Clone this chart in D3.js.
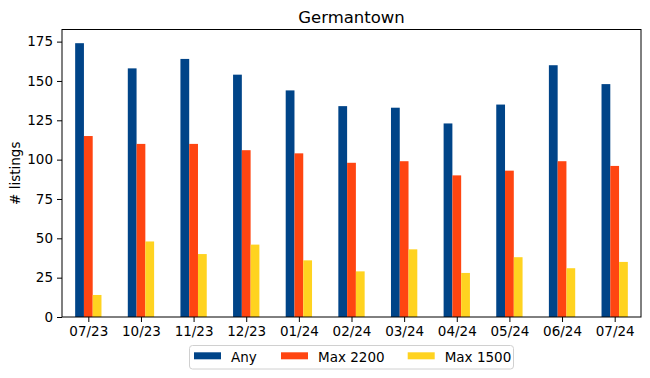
<!DOCTYPE html>
<html>
<head>
<meta charset="utf-8">
<script src="https://cdn.jsdelivr.net/npm/d3@7"></script>
<style>
  body { margin: 0; background: #fff; }
  svg { display: block; font-family: "DejaVu Sans", sans-serif; }
</style>
</head>
<body>
<svg id="chart" width="650" height="378"></svg>
<script>
const categories = ["07/23","10/23","11/23","12/23","01/24","02/24","03/24","04/24","05/24","06/24","07/24"];
const seriesNames = ["Any","Max 2200","Max 1500"];
const anyValues = [174,158,164,154,144,134,133,123,135,160,148];
const max2200Values = [115,110,110,106,104,98,99,90,93,99,96];
const max1500Values = [14,48,40,46,36,29,43,28,38,31,35];
const yTicks = [0,25,50,75,100,125,150,175];
const colors = ["#004488","#FF4511","#FFD320"];
const title = "Germantown";
const yLabel = "# listings";

const series = [anyValues, max2200Values, max1500Values];
const svg = d3.select("#chart");
const m = {left: 62, right: 641, top: 29.5, bottom: 317};

const x = d3.scaleLinear().domain([-0.5, categories.length - 0.5]).range([m.left, m.right]);
const yMax = d3.max(series.flat()) * 1.05;
const y = d3.scaleLinear().domain([0, yMax]).range([m.bottom, m.top]);

const barW = (x(1) - x(0)) * 0.5 / 3;

series.forEach((vals, si) => {
  svg.append("g").selectAll("rect").data(vals).join("rect")
    .attr("x", (d, i) => x(i) - barW * 1.5 + si * barW)
    .attr("y", d => y(d))
    .attr("width", barW)
    .attr("height", d => y(0) - y(d))
    .attr("fill", colors[si]);
});

// frame
svg.append("rect").attr("x", m.left).attr("y", m.top)
  .attr("width", m.right - m.left).attr("height", m.bottom - m.top)
  .attr("fill", "none").attr("stroke", "#000").attr("stroke-width", 1);

// axes
const xAxis = d3.axisBottom(x).tickValues(d3.range(categories.length))
  .tickFormat(i => categories[i]).tickSize(5).tickPadding(4);
const gx = svg.append("g").attr("transform", `translate(0,${m.bottom})`).call(xAxis);
gx.select(".domain").remove();
gx.selectAll("text").attr("font-size", 13.5).attr("font-family", "DejaVu Sans").attr("fill", "#000");

const yAxis = d3.axisLeft(y).tickValues(yTicks).tickSize(5).tickPadding(4);
const gy = svg.append("g").attr("transform", `translate(${m.left},0)`).call(yAxis);
gy.select(".domain").remove();
gy.selectAll("text").attr("font-size", 13.5).attr("font-family", "DejaVu Sans").attr("fill", "#000");

// title
svg.append("text").attr("x", (m.left + m.right) / 2).attr("y", 23)
  .attr("text-anchor", "middle").attr("font-size", 16.5).text(title);

// y label
svg.append("text").attr("transform", `translate(20,${(m.top + m.bottom) / 2}) rotate(-90)`)
  .attr("text-anchor", "middle").attr("font-size", 13.5).text(yLabel);

// legend
const lg = svg.append("g");
lg.append("rect").attr("x", 189.5).attr("y", 345.5).attr("width", 324).attr("height", 23.5)
  .attr("rx", 3).attr("fill", "#fff").attr("stroke", "#d0d0d0").attr("stroke-width", 1);
const legendX = [194, 281, 407.7];
seriesNames.forEach((name, i) => {
  lg.append("rect").attr("x", legendX[i]).attr("y", 352.3).attr("width", 27).attr("height", 7)
    .attr("fill", colors[i]);
  lg.append("text").attr("x", legendX[i] + 37).attr("y", 361.5)
    .attr("font-size", 13.5).text(name);
});
</script>
</body>
</html>
